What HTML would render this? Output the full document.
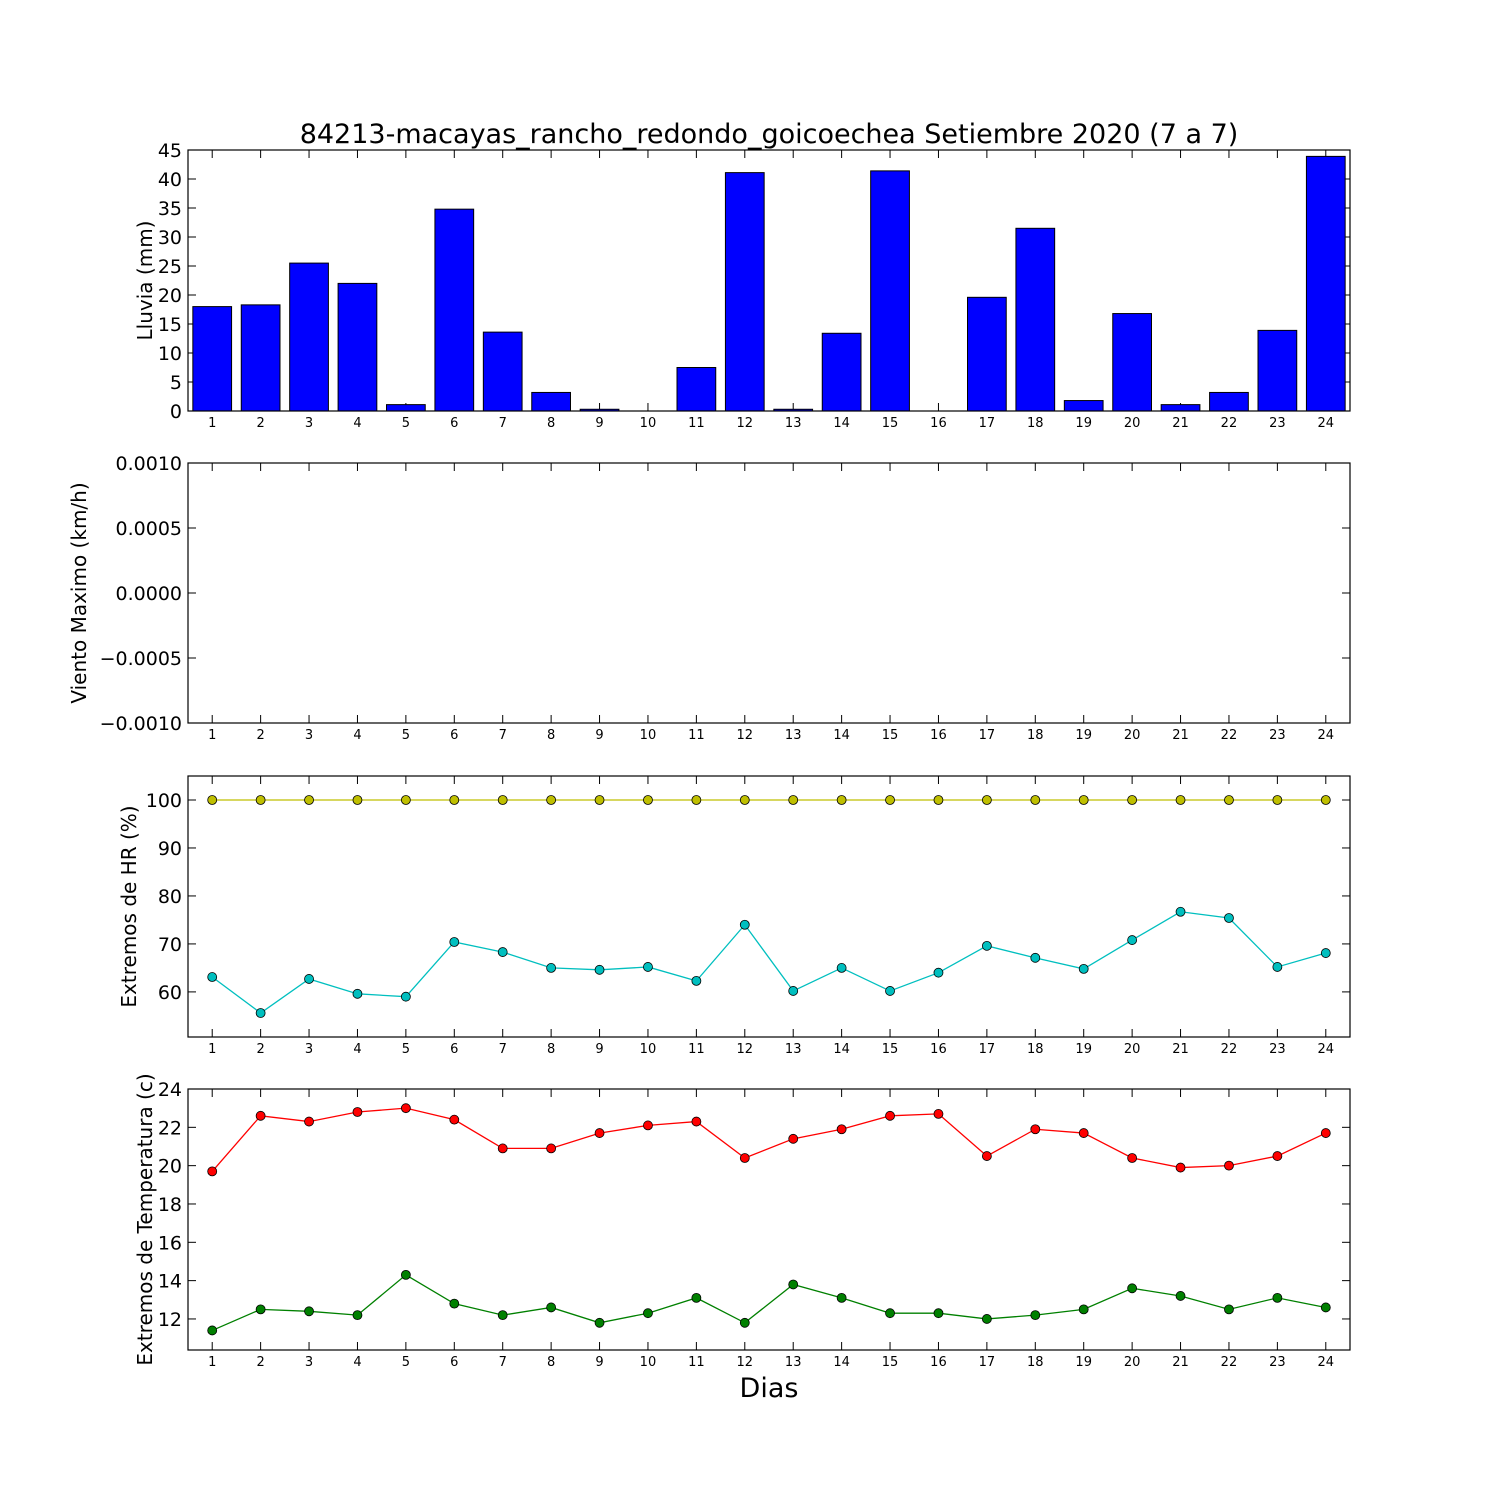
<!DOCTYPE html>
<html><head><meta charset="utf-8"><style>body{margin:0;background:#fff}svg{display:block}text{font-family:"DejaVu Sans","Liberation Sans",sans-serif}</style></head>
<body>
<svg id="c" width="1500" height="1500" xmlns="http://www.w3.org/2000/svg"></svg>
<script>
const days = Array.from({length:24},(_,i)=>i+1);
const rain = [18,18.3,25.5,22,1.1,34.8,13.6,3.2,0.3,0,7.5,41.1,0.3,13.4,41.4,0,19.6,31.5,1.8,16.8,1.1,3.2,13.9,43.9];
const hrMax = [100,100,100,100,100,100,100,100,100,100,100,100,100,100,100,100,100,100,100,100,100,100,100,100];
const hrMin = [63.1,55.6,62.7,59.6,59,70.4,68.3,65,64.6,65.2,62.3,74,60.2,65,60.2,64,69.6,67.1,64.8,70.8,76.7,75.4,65.2,68.1];
const tMax = [19.7,22.6,22.3,22.8,23,22.4,20.9,20.9,21.7,22.1,22.3,20.4,21.4,21.9,22.6,22.7,20.5,21.9,21.7,20.4,19.9,20,20.5,21.7];
const tMin = [11.4,12.5,12.4,12.2,14.3,12.8,12.2,12.6,11.8,12.3,13.1,11.8,13.8,13.1,12.3,12.3,12,12.2,12.5,13.6,13.2,12.5,13.1,12.6];
const rainTicks=[0,5,10,15,20,25,30,35,40,45];
const windTicks=["0.0010","0.0005","0.0000","\u22120.0005","\u22120.0010"];
const hrTicks=[60,70,80,90,100];
const tTicks=[12,14,16,18,20,22,24];

const svg=document.getElementById('c');const NS='http://www.w3.org/2000/svg';
function el(t,a,p){const e=document.createElementNS(NS,t);for(const k in a)e.setAttribute(k,a[k]);(p||svg).appendChild(e);return e;}
const L=188,R=1350;
const xs=d=>L+(d-0.5)*(R-L)/24;
function panel(name,top,bot,ymin,ymax,ticks,tickVals,ylabel){
  const g=el('g',{});
  const ys=v=>bot-(v-ymin)/(ymax-ymin)*(bot-top);
  tickVals.forEach((v,i)=>{const y=ys(v);
    el('line',{x1:L,x2:L+8,y1:y,y2:y,stroke:'#000'},g);el('line',{x1:R-8,x2:R,y1:y,y2:y,stroke:'#000'},g);
    const t=el('text',{x:L-6,y:y+7,'text-anchor':'end','font-size':19},g);t.textContent=ticks[i];
    });
  days.forEach(d=>{const x=xs(d);
    el('line',{x1:x,x2:x,y1:bot,y2:bot-8,stroke:'#000'},g);el('line',{x1:x,x2:x,y1:top,y2:top+8,stroke:'#000'},g);
    const t=el('text',{x:x,y:bot+16,'text-anchor':'middle','font-size':13},g);t.textContent=d;
    });
  const yl=el('text',{x:0,y:0,'text-anchor':'middle','font-size':20,transform:`translate(${L-40 - (ylabel.w||0)},${(top+bot)/2}) rotate(-90)`},g);
  yl.textContent=ylabel.t;
  return {g,ys,top,bot};
}
function frame(p){el('rect',{x:L,y:p.top,width:R-L,height:p.bot-p.top,fill:'none',stroke:'#000','stroke-width':1.2},p.g);}
function series(p,vals,color,name){
  const pts=vals.map((v,i)=>xs(days[i])+','+p.ys(v)).join(' ');
  const pl=el('polyline',{points:pts,fill:'none',stroke:color,'stroke-width':1.3},p.g);
  
  vals.forEach((v,i)=>{const c=el('circle',{cx:xs(days[i]),cy:p.ys(v),r:4.5,fill:color,stroke:'#000','stroke-width':0.8},p.g);
    });
}
// panel 1
const p1=panel('rain-panel',150,411,0,45,rainTicks,rainTicks,{t:'Lluvia (mm)',w:-4});
rain.forEach((v,i)=>{const x=xs(days[i])-0.4*48.42;const r=el('rect',{x:x,y:p1.ys(v),width:0.8*48.42,height:p1.ys(0)-p1.ys(v),fill:'#0000ff',stroke:'#000','stroke-width':1},p1.g);
  });
frame(p1);
// panel 2
const p2=panel('wind-panel',463,723,-0.001,0.001,windTicks,[0.001,0.0005,0,-0.0005,-0.001],{t:'Viento Maximo (km/h)',w:62});
frame(p2);
// panel 3
const p3=panel('humidity-panel',776,1037,50.6,105,hrTicks,hrTicks,{t:'Extremos de HR (%)',w:12});
series(p3,hrMax,'#bfbf00','hr-max');series(p3,hrMin,'#00bfbf','hr-min');frame(p3);
// panel 4
const p4=panel('temperature-panel',1089,1350,10.38,24,tTicks,tTicks,{t:'Extremos de Temperatura (c)',w:-4});
series(p4,tMax,'#ff0000','temp-max');series(p4,tMin,'#008000','temp-min');frame(p4);
const ti=el('text',{x:769,y:143,'text-anchor':'middle','font-size':27});ti.textContent='84213-macayas_rancho_redondo_goicoechea Setiembre 2020  (7 a 7)';

const xl=el('text',{x:769,y:1397,'text-anchor':'middle','font-size':27});xl.textContent='Dias';

</script>
</body></html>
